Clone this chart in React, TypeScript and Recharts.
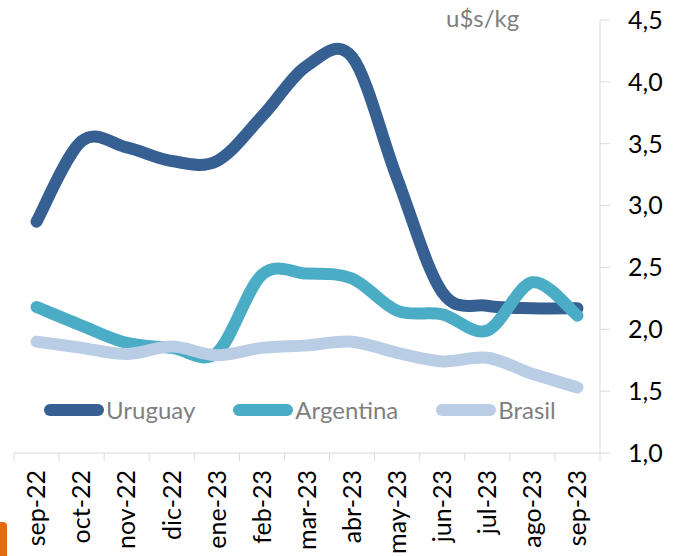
import { LineChart, Line, XAxis, YAxis } from "recharts";

const months = [
  "sep-22", "oct-22", "nov-22", "dic-22", "ene-23", "feb-23", "mar-23",
  "abr-23", "may-23", "jun-23", "jul-23", "ago-23", "sep-23",
];
const uruguay = [2.87, 3.52, 3.47, 3.36, 3.36, 3.72, 4.13, 4.2, 3.22, 2.3, 2.19, 2.17, 2.17];
const argentina = [2.18, 2.03, 1.89, 1.85, 1.81, 2.44, 2.45, 2.41, 2.15, 2.12, 1.99, 2.38, 2.11];
const brasil = [1.9, 1.85, 1.8, 1.86, 1.79, 1.85, 1.87, 1.9, 1.81, 1.74, 1.77, 1.64, 1.53];
const yTicks = [1, 1.5, 2, 2.5, 3, 3.5, 4, 4.5];

const series = [
  { key: "Uruguay", color: "#376092" },
  { key: "Argentina", color: "#4BACC6" },
  { key: "Brasil", color: "#B9CDE5" },
];

const data = months.map((month, i) => ({
  month,
  Uruguay: uruguay[i],
  Argentina: argentina[i],
  Brasil: brasil[i],
}));

const W = 677;
const H = 556;
const LEFT = 14;
const Y_AXIS_W = 77;
const X_AXIS_H = 103;
const AXIS_Y = H - X_AXIS_H;
const HALF = (W - LEFT - Y_AXIS_W) / months.length / 2;
const GRID = "#D9D9D9";
const FONT = "Lato";

// smoothing similar to excel's "smoothed line"
const smooth = (context: any) => {
  let pts: number[][] = [];
  return {
    areaStart() {},
    areaEnd() {},
    lineStart() {
      pts = [];
    },
    lineEnd() {
      const n = pts.length;
      if (!n) return;
      context.moveTo(pts[0][0], pts[0][1]);
      for (let i = 0; i < n - 1; i++) {
        const p0 = pts[i - 1] || pts[i];
        const p1 = pts[i];
        const p2 = pts[i + 1];
        const p3 = pts[i + 2] || p2;
        context.bezierCurveTo(
          p1[0] + (p2[0] - p0[0]) / 6,
          p1[1] + (p2[1] - p0[1]) / 6,
          p2[0] - (p3[0] - p1[0]) / 6,
          p2[1] - (p3[1] - p1[1]) / 6,
          p2[0],
          p2[1]
        );
      }
    },
    point(x: number, y: number) {
      pts.push([+x, +y]);
    },
  };
};

function MonthTick(props: any) {
  const { x, payload, index } = props;
  const ty = AXIS_Y + 17;
  return (
    <g>
      <line x1={x - HALF} y1={AXIS_Y} x2={x - HALF} y2={AXIS_Y + 8} stroke={GRID} />
      {index === months.length - 1 && (
        <line x1={x + HALF} y1={AXIS_Y} x2={x + HALF} y2={AXIS_Y + 8} stroke={GRID} />
      )}
      <text
        x={x}
        y={ty}
        dy="0.35em"
        textAnchor="end"
        transform={`rotate(-90, ${x}, ${ty})`}
        fontSize={25}
        fontFamily={FONT}
        fill="#000"
      >
        {payload.value}
      </text>
    </g>
  );
}

export default function App() {
  return (
    <div style={{ position: "absolute", left: 0, top: 0, width: W, height: H, background: "#fff" }}>
      <LineChart
        width={W}
        height={H}
        data={data}
        margin={{ top: 20, right: 0, bottom: 0, left: LEFT }}
        style={{ fontFamily: FONT }}
      >
        <XAxis
          dataKey="month"
          height={X_AXIS_H}
          padding={{ left: HALF, right: HALF }}
          interval={0}
          tickLine={false}
          axisLine={{ stroke: GRID }}
          tick={<MonthTick />}
        />
        <YAxis
          orientation="right"
          width={Y_AXIS_W}
          domain={[1, 4.5]}
          ticks={yTicks}
          interval={0}
          tickSize={10}
          tickMargin={18}
          axisLine={{ stroke: GRID }}
          tickLine={{ stroke: GRID }}
          tick={{ fontSize: 25, fill: "#000", fontFamily: FONT, textAnchor: "start" }}
          tickFormatter={(v: number) => v.toFixed(1).replace(".", ",")}
        />
        {series.map((s) => (
          <Line
            key={s.key}
            dataKey={s.key}
            type={smooth as any}
            stroke={s.color}
            strokeWidth={12}
            strokeLinecap="round"
            strokeLinejoin="round"
            dot={false}
            activeDot={false}
            isAnimationActive={false}
          />
        ))}
      </LineChart>
      <div
        style={{
          position: "absolute",
          left: 446,
          top: 4,
          fontFamily: FONT,
          fontSize: 24,
          color: "#7F7F7F",
          lineHeight: "28px",
        }}
      >
        u$s/kg
      </div>
      <div
        style={{
          position: "absolute",
          left: 44,
          top: 398,
          display: "flex",
          alignItems: "center",
          gap: 38,
          fontFamily: FONT,
          fontSize: 24,
          color: "#7F7F7F",
          lineHeight: "24px",
        }}
      >
        {series.map((s) => (
          <div key={s.key} style={{ display: "flex", alignItems: "center" }}>
            <span
              style={{ display: "inline-block", width: 60, height: 12, borderRadius: 6, background: s.color }}
            />
            <span style={{ marginLeft: 2 }}>{s.key}</span>
          </div>
        ))}
      </div>
      <div
        style={{
          position: "absolute",
          left: 0,
          top: 522,
          width: 7,
          height: 34,
          background: "#E46C0A",
          borderTopRightRadius: 4,
        }}
      />
    </div>
  );
}
